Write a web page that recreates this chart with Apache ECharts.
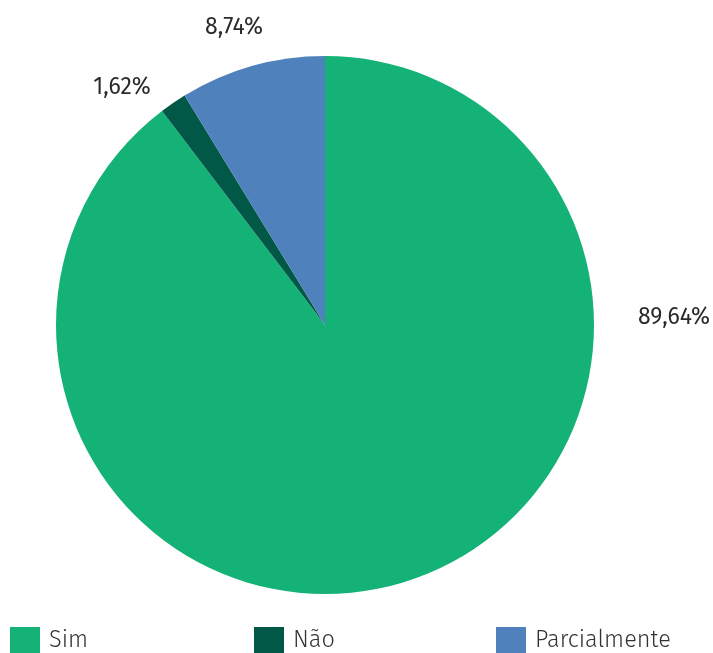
<!DOCTYPE html>
<html>
<head>
<meta charset="utf-8">
<script src="https://cdn.jsdelivr.net/npm/echarts@6/dist/echarts.min.js"></script>
<style>
  html, body { margin: 0; padding: 0; background: #ffffff; }
  #chart { width: 713px; height: 653px; }
</style>
</head>
<body>
<div id="chart"></div>
<script>
// Answer categories and their shares (%)
const categories = ['Sim', 'Não', 'Parcialmente'];
const shares = [89.64, 1.62, 8.74];
const colors = ['#15b278', '#025847', '#4f81bd'];

const FONT = "'Fira Sans', 'Noto Sans', sans-serif";
const CX = 325, CY = 325, R = 269;

// Where each percentage label sits, relative to the pie centre
const labelOffsets = [[349, -7], [-203, -237], [-91, -297]];

const chart = echarts.init(document.getElementById('chart'), null, { renderer: 'canvas' });

const fmt = v => v.toFixed(2).replace('.', ',') + '%';

const legendLefts = [5, 249, 491];

chart.setOption({
  animation: false,
  color: colors,
  legend: categories.map((name, i) => ({
    data: [name],
    left: legendLefts[i],
    top: 622,
    itemWidth: 30,
    itemHeight: 26,
    itemGap: 0,
    icon: 'rect',
    selectedMode: false,
    textStyle: { fontFamily: FONT, fontSize: 23.5, fontWeight: 300, color: '#333', padding: [0, 0, 0, 4] }
  })),
  series: [{
    type: 'pie',
    center: [CX, CY],
    radius: [0, R],
    startAngle: 90,
    clockwise: true,
    silent: true,
    data: categories.map((name, i) => ({ name, value: shares[i] })),
    itemStyle: { borderWidth: 0 },
    label: {
      show: true,
      position: 'outside',
      formatter: p => fmt(p.value),
      fontFamily: FONT,
      fontSize: 23,
      fontWeight: 'normal',
      color: '#2b2b2b'
    },
    labelLine: { show: false },
    labelLayout: p => ({
      x: CX + labelOffsets[p.dataIndex][0],
      y: CY + labelOffsets[p.dataIndex][1],
      align: 'center',
      verticalAlign: 'middle'
    })
  }]
});
</script>
</body>
</html>
